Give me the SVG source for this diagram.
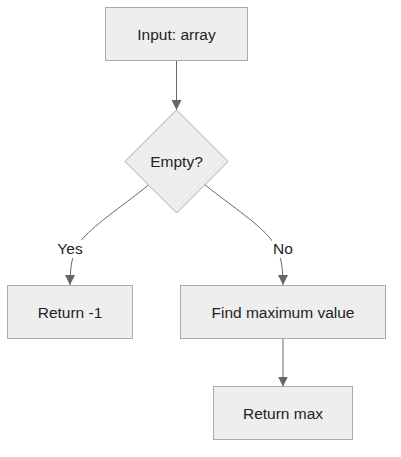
<svg xmlns="http://www.w3.org/2000/svg" width="401" height="457" viewBox="0 0 401 457">
<style>
.node rect, .node polygon { fill: #eeeeee; stroke: #aaaaaa; stroke-width: 1; }
text { font-family: "Liberation Sans", Arial, sans-serif; font-size: 15.5px; fill: #222; text-anchor: middle; }
.edge { fill: none; stroke: #666666; stroke-width: 1; }
.lbl { fill: #ffffff; }
</style>
<defs>
<marker id="arr" viewBox="0 0 10 10" refX="10" refY="5" markerWidth="10" markerHeight="10" markerUnits="userSpaceOnUse" orient="auto">
<path d="M0,0 L10,5 L0,10 z" fill="#666666"/>
</marker>
</defs>
<rect width="401" height="457" fill="#ffffff"/>
<g id="edges">
<path class="edge" d="M176.5,61 L176.5,110" marker-end="url(#arr)"/>
<path class="edge" d="M148.5,185 C120,208 92,226 80,242 C73,252 70,264 70,285" marker-end="url(#arr)"/>
<path class="edge" d="M205,185 C233,207 262,226 273,242 C280,252 283,264 283,285" marker-end="url(#arr)"/>
<path class="edge" d="M283,338.5 L283,386.5" marker-end="url(#arr)"/>
<rect class="lbl" x="57" y="240" width="26" height="18"/>
<text x="70" y="254">Yes</text>
<rect class="lbl" x="272" y="240" width="22" height="18"/>
<text x="283" y="254">No</text>
</g>
<g id="input" class="node">
<rect x="105.5" y="7.5" width="142" height="53"/>
<text x="176.5" y="39.5">Input: array</text>
</g>
<g id="empty" class="node">
<polygon points="176.5,110 228,161.5 176.5,213 125,161.5"/>
<text x="176.5" y="167">Empty?</text>
</g>
<g id="ret1" class="node">
<rect x="7.5" y="285.5" width="125" height="53"/>
<text x="70" y="317.5">Return -1</text>
</g>
<g id="findmax" class="node">
<rect x="180.5" y="285.5" width="205" height="53"/>
<text x="283" y="317.5">Find maximum value</text>
</g>
<g id="retmax" class="node">
<rect x="213.5" y="386.5" width="139" height="53"/>
<text x="283" y="418.5">Return max</text>
</g>
</svg>
